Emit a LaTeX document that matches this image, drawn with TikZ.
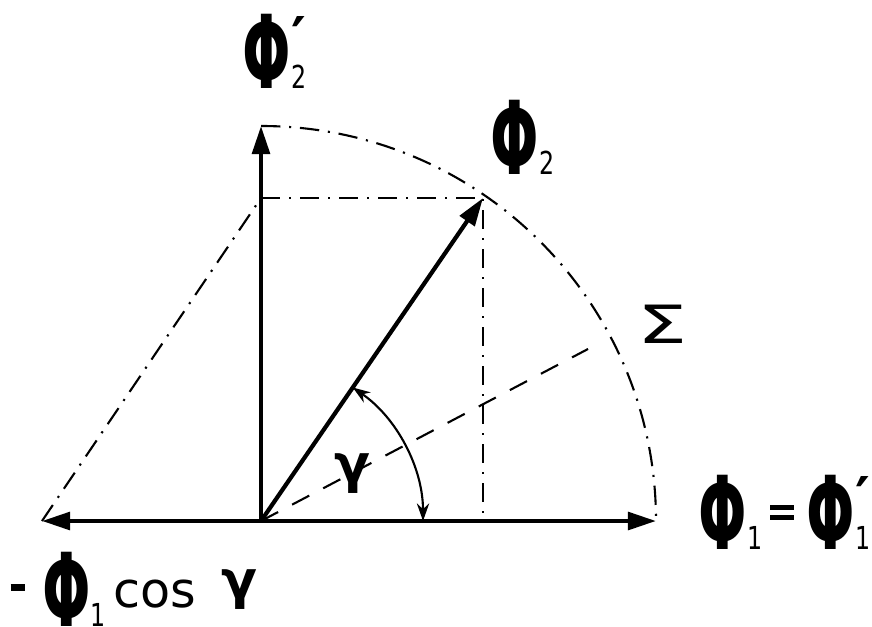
\documentclass[tikz,border=0pt]{standalone}
\usepackage{fontspec}
\setmainfont{DejaVu Sans}
\usepackage{graphicx}
\usetikzlibrary{arrows.meta, calc}

% narrow heavy Phi, with subscript and optional prime
\newcommand{\Phib}{\scalebox{0.56}[1]{\bfseries Φ}}
\newcommand{\subsup}[2]{\rlap{\raisebox{9pt}{\fontsize{16}{16}\selectfont\bfseries #2}}\scalebox{0.75}[1]{\fontsize{9}{9}\selectfont\mdseries #1}}
\newcommand{\eqbars}{\rlap{\rule[8.3pt]{6.8pt}{1.5pt}}\rule[11.1pt]{6.8pt}{1.5pt}}

\tikzset{
  vec/.style={line width=1.2pt, -{Triangle[length=8pt, width=5pt]}},
  dashdot/.style={line width=0.6pt, dash pattern=on 5.5pt off 2.5pt on 0.6pt off 2.5pt},
  dashline/.style={line width=0.6pt, dash pattern=on 5.5pt off 4.5pt},
  anglemark/.style={line width=0.6pt, {Stealth[length=5pt, width=3.5pt]}-{Stealth[length=5pt, width=3.5pt]}},
  biglab/.style={inner sep=0pt, font=\fontsize{29}{30}\selectfont},
  smalllab/.style={inner sep=0pt, font=\fontsize{15}{16}\selectfont},
}

\begin{document}
\begin{tikzpicture}[x=0.1mm, y=-0.1mm]
  \useasboundingbox (0,0) rectangle (872,626);

  % Points
  \coordinate (O) at (261,521);
  \coordinate (R) at (656,521);
  \coordinate (L) at (42,521);
  \coordinate (T) at (261,126);
  \coordinate (P) at (483,198);
  \coordinate (F) at (483,521);
  \coordinate (Q) at (261,198);
  \coordinate (S) at (588,349);

  % Construction lines
  \draw[dashdot] (T) arc[start angle=-90, end angle=0, radius=395];
  \draw[dashdot] (Q) -- (P) -- (F);
  \draw[dashdot] (L) -- (Q);
  \draw[dashline] (O) -- (S);

  % Vectors
  \foreach \tip in {R, L, T, P}
    \draw[vec] (O) -- (\tip);

  % Angle gamma
  \draw[anglemark] ($(O)+(-55.5:162)$) arc[start angle=-55.5, end angle=0, radius=162];
  \node[smalllab, font=\fontsize{15}{16}\selectfont\bfseries] (gam) at (352,474) {γ};

  % Labels
  \node[biglab, anchor=base west] (phitwop) at (242,89) {\Phib\subsup{2}{′}};
  \node[biglab, anchor=base west] (phitwo) at (490,174) {\Phib\subsup{2}{}};
  \node[smalllab, font=\fontsize{15}{16}\selectfont] (sigma) at (662,324) {\scalebox{1.5}[1]{Σ}};
  \node[biglab, anchor=base west] (phione) at (698,549)
    {\Phib\subsup{1}{}\hspace{2.3pt}\eqbars\hspace{3.5pt}\Phib\subsup{1}{′}};
  \node[biglab, anchor=base west] (negphi) at (10,626)
    {\rule[10pt]{4pt}{2pt}\hspace{5pt}\Phib\subsup{1}{}};
  \node[smalllab, anchor=base west, font=\fontsize{14}{15}\selectfont] (cosg) at (113,607)
    {cos\hspace{7pt}\raisebox{2.5pt}{\fontsize{15}{16}\selectfont\bfseries γ}};
\end{tikzpicture}
\end{document}
